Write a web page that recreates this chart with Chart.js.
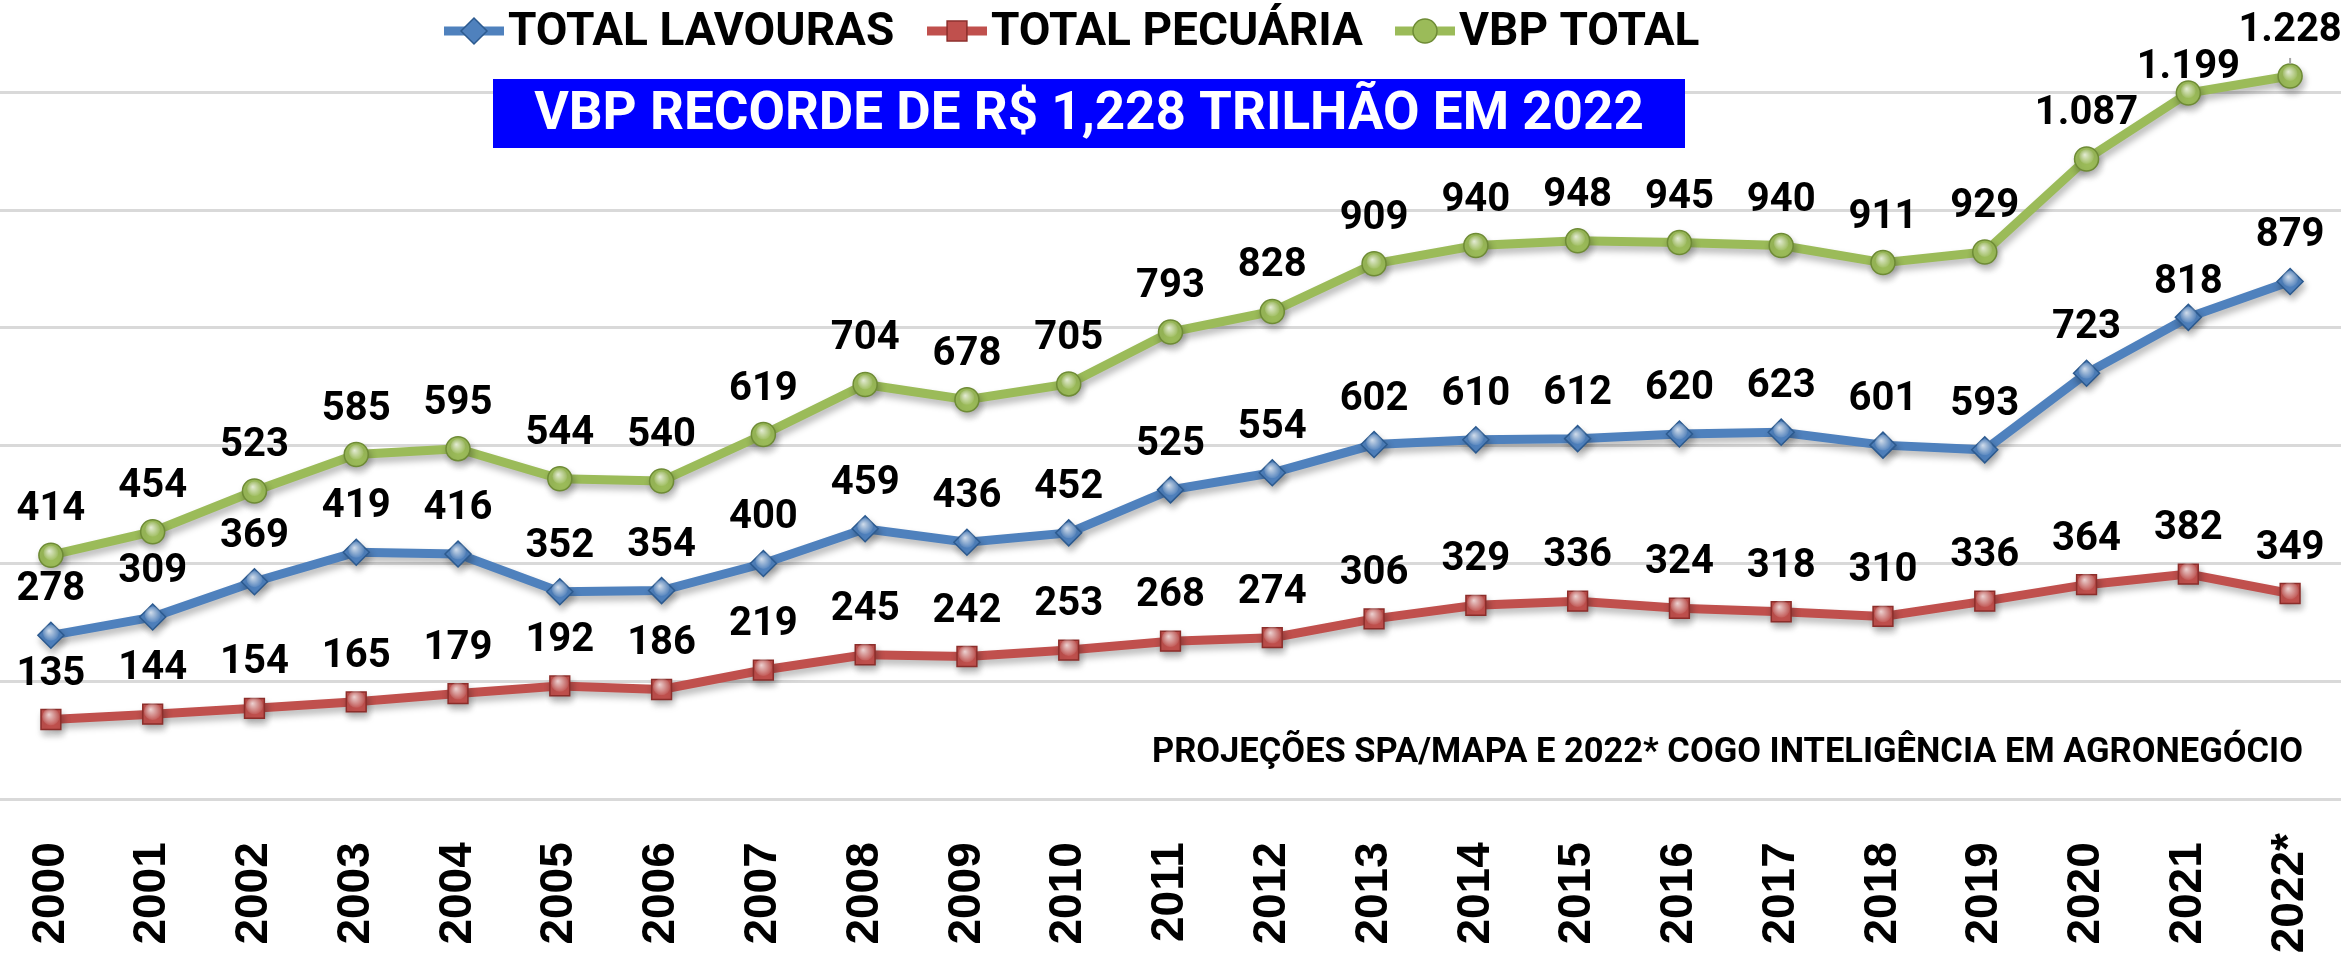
<!DOCTYPE html>
<html>
<head>
<meta charset="utf-8">
<script src="https://cdn.jsdelivr.net/npm/chart.js@4.4.1/dist/chart.umd.min.js"></script>
<style>
  html, body { margin: 0; padding: 0; background: #fff; }
  #wrap { width: 2345px; height: 956px; }
</style>
</head>
<body>
<div id="wrap"><canvas id="vbp-chart" width="2345" height="956"></canvas></div>
<script>
// Data (R$ bilhões)
const years = ['2000', '2001', '2002', '2003', '2004', '2005', '2006', '2007', '2008', '2009', '2010', '2011',
  '2012', '2013', '2014', '2015', '2016', '2017', '2018', '2019', '2020', '2021', '2022*'];
const lavouras = [278, 309, 369, 419, 416, 352, 354, 400, 459, 436, 452, 525, 554, 602, 610, 612, 620, 623, 601, 593, 723, 818, 879];
const pecuaria = [135, 144, 154, 165, 179, 192, 186, 219, 245, 242, 253, 268, 274, 306, 329, 336, 324, 318, 310, 336, 364, 382, 349];
const vbpTotal = [414, 454, 523, 585, 595, 544, 540, 619, 704, 678, 705, 793, 828, 909, 940, 948, 945, 940, 911, 929, 1087, 1199, 1228];
const seriesNames = ['TOTAL LAVOURAS', 'TOTAL PECUÁRIA', 'VBP TOTAL'];

const FONT = 'Roboto, "Liberation Sans", sans-serif';
const colors = ['#4F81BD', '#C0504D', '#9BBB59'];
const borders = ['#2C5A8F', '#8C2D2A', '#6E8B35'];
const shapes = ['rectRot', 'rect', 'circle'];
const radii = [13, 14, 12];

function fmtBR(n) {
  if (n < 1000) return String(n);
  return Math.floor(n / 1000) + '.' + String(n % 1000).padStart(3, '0');
}

function makeDataset(i, values) {
  return {
    label: seriesNames[i],
    data: values,
    borderColor: colors[i],
    backgroundColor: colors[i],
    borderWidth: 9,
    tension: 0,
    pointStyle: shapes[i],
    pointRadius: radii[i],
    pointBackgroundColor: colors[i],
    pointBorderColor: borders[i],
    pointBorderWidth: 1.5
  };
}

// soft shadow under every series, like the original
const lineShadow = {
  id: 'lineShadow',
  beforeDatasetDraw(chart) {
    const ctx = chart.ctx;
    ctx.save();
    ctx.shadowColor = 'rgba(0,0,0,0.28)';
    ctx.shadowBlur = 7;
    ctx.shadowOffsetX = 2;
    ctx.shadowOffsetY = 5;
  },
  afterDatasetDraw(chart) {
    chart.ctx.restore();
  }
};

// glossy highlight on markers
const markerGloss = {
  id: 'markerGloss',
  afterDatasetsDraw(chart) {
    const ctx = chart.ctx;
    chart.data.datasets.forEach((ds, i) => {
      chart.getDatasetMeta(i).data.forEach(pt => {
        const r = radii[i];
        const g = ctx.createRadialGradient(pt.x - r * 0.15, pt.y - r * 0.35, 0, pt.x, pt.y - r * 0.2, r * 0.7);
        g.addColorStop(0, 'rgba(255,255,255,0.75)');
        g.addColorStop(1, 'rgba(255,255,255,0)');
        ctx.fillStyle = g;
        ctx.beginPath();
        ctx.arc(pt.x, pt.y - r * 0.2, r * 0.62, 0, Math.PI * 2);
        ctx.fill();
      });
    });
  }
};

// value labels above every point
const valueLabels = {
  id: 'valueLabels',
  afterDatasetsDraw(chart, args, opts) {
    const ctx = chart.ctx;
    ctx.save();
    ctx.font = 'bold 40px ' + FONT;
    ctx.fillStyle = '#000';
    ctx.textAlign = 'center';
    ctx.textBaseline = 'middle';
    chart.data.datasets.forEach((ds, i) => {
      chart.getDatasetMeta(i).data.forEach((pt, j) => {
        const key = i + ':' + j;
        const lift = opts.lift[key] !== undefined ? opts.lift[key] : opts.offset;
        if (opts.leader[key]) {
          ctx.strokeStyle = '#A6A6A6';
          ctx.lineWidth = 2;
          ctx.beginPath();
          ctx.moveTo(pt.x, pt.y - radii[i]);
          ctx.lineTo(pt.x, pt.y - opts.leader[key]);
          ctx.stroke();
        }
        ctx.fillText(fmtBR(ds.data[j]), pt.x, pt.y - lift);
      });
    });
    ctx.restore();
  }
};

// legend, headline box and source note
const annotations = {
  id: 'annotations',
  afterDraw(chart) {
    const ctx = chart.ctx;
    const H = Chart.helpers;
    ctx.save();

    // legend
    ctx.font = 'bold 46px ' + FONT;
    ctx.textBaseline = 'middle';
    ctx.textAlign = 'left';
    const legendX = [444, 927, 1395];
    const legendY = 31;
    seriesNames.forEach((name, i) => {
      const x0 = legendX[i];
      ctx.strokeStyle = colors[i];
      ctx.lineWidth = 9;
      ctx.beginPath();
      ctx.moveTo(x0, legendY);
      ctx.lineTo(x0 + 60, legendY);
      ctx.stroke();
      ctx.fillStyle = colors[i];
      ctx.strokeStyle = borders[i];
      ctx.lineWidth = 1.5;
      H.drawPoint(ctx, { pointStyle: shapes[i], radius: radii[i], borderWidth: 1.5 }, x0 + 30, legendY);
      ctx.fillStyle = '#000';
      ctx.fillText(name, x0 + 64, legendY + 2);
    });

    // headline
    ctx.fillStyle = '#0000FF';
    ctx.fillRect(493, 79, 1192, 69);
    ctx.fillStyle = '#fff';
    ctx.textAlign = 'center';
    ctx.font = 'bold 53px ' + FONT;
    ctx.fillText('VBP RECORDE DE R$ 1,228 TRILHÃO EM 2022', 1089, 116);

    // source
    ctx.fillStyle = '#000';
    ctx.textAlign = 'right';
    ctx.font = 'bold 34.5px ' + FONT;
    ctx.fillText('PROJEÇÕES SPA/MAPA E 2022* COGO INTELIGÊNCIA EM AGRONEGÓCIO', 2303, 753);
    ctx.restore();
  }
};

const chart = new Chart(document.getElementById('vbp-chart'), {
  type: 'line',
  data: {
    labels: years,
    datasets: [makeDataset(0, lavouras), makeDataset(1, pecuaria), makeDataset(2, vbpTotal)]
  },
  options: {
    responsive: false,
    animation: false,
    devicePixelRatio: 1,
    layout: { autoPadding: false, padding: { top: 0, right: 4, bottom: 0, left: 0 } },
    plugins: {
      legend: { display: false },
      tooltip: { enabled: false },
      valueLabels: { offset: 45, lift: { '2:21': 25, '0:21': 34 }, leader: { '2:22': 18 } }
    },
    scales: {
      x: {
        offset: true,
        grid: { display: false, drawTicks: false },
        border: { display: false },
        ticks: {
          color: '#000',
          font: { family: '"Liberation Sans", Arial, sans-serif', size: 46, weight: 'bold' },
          minRotation: 90,
          maxRotation: 90,
          padding: 34,
          autoSkip: false,
          // thin space keeps the plain years centred against "2022*"
          callback: function (value) {
            const lbl = this.getLabelForValue(value);
            return lbl.endsWith('*') ? lbl : lbl + '\u2009';
          }
        },
        afterFit: scale => {
          scale.height = 157;
          scale.paddingLeft = 0;
          scale.paddingRight = 0;
        }
      },
      y: {
        min: 0,
        max: 1357,
        grid: { color: '#D9D9D9', lineWidth: 3, drawTicks: false },
        border: { display: false },
        ticks: { display: false, stepSize: 200 },
        afterBuildTicks: axis => { axis.ticks = axis.ticks.filter(t => t.value % 200 === 0); }
      }
    }
  },
  plugins: [lineShadow, markerGloss, valueLabels, annotations]
});
</script>
</body>
</html>
